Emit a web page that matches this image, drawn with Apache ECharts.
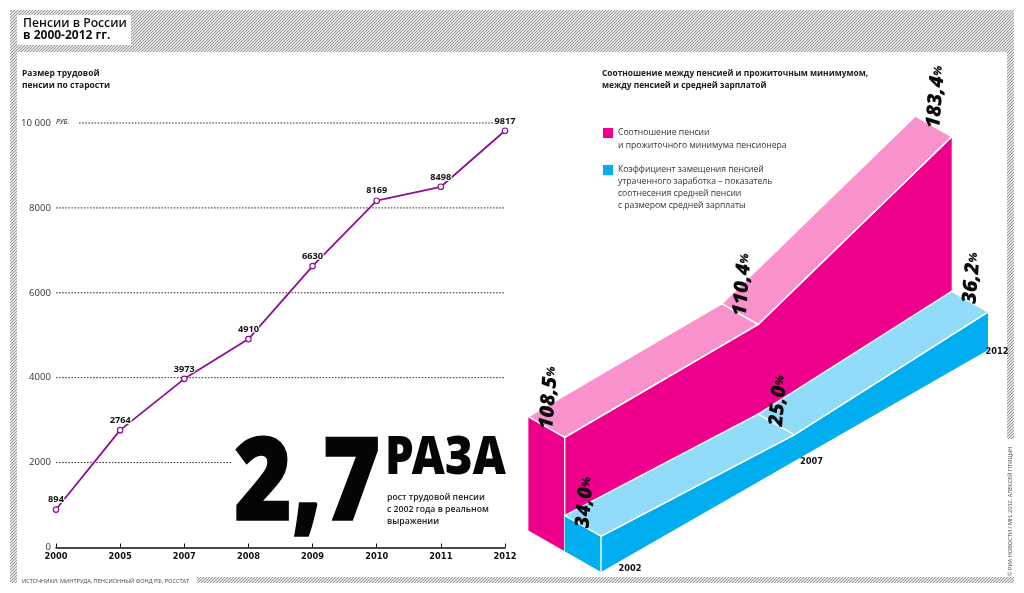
<!DOCTYPE html>
<html><head><meta charset="utf-8">
<style>html,body{margin:0;padding:0;background:#fff}#c{width:1024px;height:593px}</style>
<script src="https://cdn.jsdelivr.net/npm/echarts@6/dist/echarts.min.js"></script>
</head><body><div id="c"></div>
<script>
// ---- data ----
const years = ['2000','2005','2007','2008','2009','2010','2011','2012'];
const pension = [894,2764,3973,4910,6630,8169,8498,9817];
const yTicks = {0:'0',2000:'2000',4000:'4000',6000:'6000',8000:'8000',10000:'10 000'};
const dottedLevels = [10000,8000,6000,4000,2000];
const dottedFrom   = [0.36,0,0,0,0];
const dottedTo     = [7,7,7,7,2.75];
const ribbonYears = ['2002','2007','2012'];
const minimumRatio = [108.5,110.4,183.4];
const replacementRate = [34.0,25.0,36.2];
const minimumLabels = ['108,5','110,4','183,4'];
const replacementLabels = ['34,0','25,0','36,2'];

const PINK='#ee008c', PINK_L='#f98bc9', BLUE='#00aeef', BLUE_L='#8ad9f8';
const FONT='"Open Sans","Noto Sans",sans-serif';
const HEAVY='"Noto Sans","Open Sans",sans-serif';
const DIGIT='"DejaVu Sans",sans-serif';

function hatchTile(){
  const c=document.createElement('canvas');c.width=c.height=3;
  const g=c.getContext('2d');g.fillStyle='#e2e2e2';g.fillRect(0,0,3,3);
  g.fillStyle='#9a9a9a';
  for(let y=0;y<3;y++)for(let x=0;x<3;x++)if((x+y)%3===0)g.fillRect(x,y,1,1);
  return {image:c,repeat:'repeat'};
}
function streakTile(base,light){
  const c=document.createElement('canvas');c.width=c.height=24;
  const g=c.getContext('2d');g.fillStyle=base;g.fillRect(0,0,24,24);
  g.strokeStyle=light;g.lineWidth=.5;
  for(let i=-24;i<48;i+=3){g.beginPath();g.moveTo(i,24);g.lineTo(i+24,0);g.stroke();}
  return {image:c,repeat:'repeat'};
}
const hatch=hatchTile();
const pinkTop=streakTile(PINK_L,'rgba(255,210,235,.55)');
const blueTop=streakTile(BLUE_L,'rgba(215,245,255,.55)');

// oblique projection of the ribbon chart: the run along the years climbs, the depth steps back
const RISE=111, DX=36.3, DY=20.7;
function project(api,i,depth,v){
  const c=api.coord([i,v]);
  return [c[0]-depth*DX, c[1]-i*RISE-depth*DY];
}
function ribbon(values,labels,d0,colour,topFill){
  return function(params,api){
    const i=params.dataIndex, kids=[], P=(k,d,v)=>project(api,k,d,v), d1=d0+1, v=values[i];
    const white={stroke:'#fff',lineWidth:1.4,fill:null};
    if(i===0){
      kids.push({type:'polygon',shape:{points:[P(0,d1,v),P(0,d0,v),P(0,d0,0),P(0,d1,0)]},style:{fill:colour}});
      const front=values.map((w,k)=>P(k,d0,w));
      for(let k=values.length-1;k>=0;k--)front.push(P(k,d0,0));
      kids.push({type:'polygon',shape:{points:front},style:{fill:colour}});
    }
    if(i<values.length-1){
      const w=values[i+1];
      kids.push({type:'polygon',shape:{points:[P(i,d1,v),P(i+1,d1,w),P(i+1,d0,w),P(i,d0,v)]},style:{fill:topFill,stroke:'#fff',lineWidth:1.4}});
      kids.push({type:'polyline',shape:{points:[P(i,d0,v),P(i+1,d0,w)]},style:white});
    }
    if(i===0){
      kids.push({type:'polyline',shape:{points:[P(0,d0,v),P(0,d0,0)]},style:white});
    }
    const a=P(i,d0+.5,v);
    kids.push({type:'text',x:a[0],y:a[1]+2,rotation:1.49,z2:50,style:{
      text:'{a|'+labels[i]+'}{b|%}',align:'left',verticalAlign:'middle',
      rich:{a:{font:'italic 800 20px '+FONT,fill:'#0a0a0a'},b:{font:'italic 800 11px '+FONT,fill:'#0a0a0a'}}
    }});
    return {type:'group',children:kids};
  };
}
const yearShift=[[29,-3],[17,1],[9,2]];

function txt(x,y,text,o){o=o||{};return {type:'text',x:x,y:y+1,rotation:o.rot||0,scaleX:o.sx||1,z:o.z||20,style:{
  text:text,fill:o.c||'#1a1a1a',font:o.f||('600 9px '+FONT),align:o.a||'left',verticalAlign:'middle',
  stroke:o.s||null,lineWidth:o.lw||0}};}
function band(x,y,w,h){return {type:'rect',shape:{x:x,y:y,width:w,height:h},style:{fill:hatch},z:1};}
function swatch(x,y,col){return {type:'rect',shape:{x:x,y:y,width:10,height:10},style:{fill:col},z:5};}
function fracCoord(api,f,v){
  const k=Math.min(Math.floor(f),years.length-2),a=api.coord([k,v]),b=api.coord([k+1,v]);
  return [a[0]+(b[0]-a[0])*(f-k),a[1]];
}

const chart=echarts.init(document.getElementById('c'),null,{renderer:'canvas'});
chart.setOption({
  animation:false,backgroundColor:'#fff',
  grid:[
    {left:56,width:449,top:123,height:424.5,containLabel:false},
    {left:601,width:387,top:152,height:420}
  ],
  xAxis:[
    {type:'category',gridIndex:0,data:years,boundaryGap:false,
     axisLine:{lineStyle:{color:'#111',width:1.6}},
     axisTick:{inside:true,length:4,lineStyle:{color:'#111',width:1}},
     axisLabel:{interval:0,margin:5,color:'#111',fontFamily:'DejaVu Sans',fontWeight:'bold',fontSize:8.3,hideOverlap:false},splitLine:{show:false}},
    {type:'value',gridIndex:1,min:0,max:2,show:false}
  ],
  yAxis:[
    {type:'value',gridIndex:0,min:0,max:10000,interval:2000,axisLine:{show:false},axisTick:{show:false},splitLine:{show:false},
     axisLabel:{margin:5,color:'#333',fontFamily:'Open Sans',fontSize:9.6,padding:[0,0,5,0],formatter:v=>yTicks[v]}},
    {type:'value',gridIndex:1,min:0,max:400,show:false}
  ],
  series:[
    {name:'Уровни',type:'custom',xAxisIndex:0,yAxisIndex:0,z:1,silent:true,clip:false,
     data:dottedLevels.map((v,i)=>[i,v]),encode:{y:1},
     renderItem(p,api){
       const i=p.dataIndex,a=fracCoord(api,dottedFrom[i],dottedLevels[i]),b=fracCoord(api,dottedTo[i],dottedLevels[i]);
       return {type:'line',shape:{x1:a[0],y1:a[1],x2:b[0],y2:b[1]},style:{stroke:'#222',lineWidth:1,lineDash:[1.5,1.6]}};
     }},
    {name:'Размер трудовой пенсии по старости',type:'line',xAxisIndex:0,yAxisIndex:0,z:3,data:pension,
     lineStyle:{color:'#8c1096',width:1.8},symbol:'circle',symbolSize:5.5,showAllSymbol:true,
     itemStyle:{color:'#fff',borderColor:'#8c1096',borderWidth:1.2},
     label:{show:true,position:'top',distance:2,color:'#111',fontFamily:'Open Sans',fontWeight:700,fontSize:9.2,
            textBorderColor:'#fff',textBorderWidth:2}},
    {name:'Соотношение пенсии и прожиточного минимума пенсионера',type:'custom',xAxisIndex:1,yAxisIndex:1,z:2,clip:false,
     data:minimumRatio.map((v,i)=>[i,v]),encode:{x:0,y:1},
     renderItem:ribbon(minimumRatio,minimumLabels,1,PINK,pinkTop)},
    {name:'Коэффициент замещения пенсией утраченного заработка',type:'custom',xAxisIndex:1,yAxisIndex:1,z:4,clip:false,
     data:replacementRate.map((v,i)=>[i,v]),encode:{x:0,y:1},
     renderItem:ribbon(replacementRate,replacementLabels,0,BLUE,blueTop)},
    {name:'Годы',type:'custom',xAxisIndex:1,yAxisIndex:1,z:5,clip:false,silent:true,
     data:ribbonYears.map((v,i)=>[i,0]),encode:{x:0,y:1},
     renderItem(p,api){
       const i=p.dataIndex,c=project(api,i,0,0);
       return {type:'text',x:c[0]+yearShift[i][0],y:c[1]+yearShift[i][1],style:{text:ribbonYears[i],align:'center',verticalAlign:'middle',font:'bold 8.3px '+DIGIT,fill:'#111'}};
     }}
  ],
  graphic:{elements:[
    band(10,10,1004,42),band(10,52,7,531),band(1007,52,7,387),band(197,577,817,6),
    {type:'rect',shape:{x:17,y:15,width:114,height:30},style:{fill:'#fff'},z:5},
    txt(23,23,'Пенсии в России',{f:'600 12.2px '+FONT,c:'#111'}),
    txt(23,35,'в 2000-2012 гг.',{f:'700 12px '+FONT,c:'#111'}),
    txt(22,73,'Размер трудовой',{f:'700 8.5px '+FONT}),
    txt(22,85,'пенсии по старости',{f:'700 8.5px '+FONT}),
    txt(56,121,'РУБ.',{f:'italic 600 6.5px '+FONT,c:'#444'}),
    txt(602,73,'Соотношение между пенсией и прожиточным минимумом,',{f:'700 8.35px '+FONT}),
    txt(602,85,'между пенсией и средней зарплатой',{f:'700 8.35px '+FONT}),
    swatch(603,128,PINK),swatch(603,165,BLUE),
    txt(618,132,'Соотношение пенсии',{f:'400 8.6px '+FONT,c:'#333'}),
    txt(618,145,'и прожиточного минимума пенсионера',{f:'400 8.6px '+FONT,c:'#333'}),
    txt(618,169,'Коэффициент замещения пенсией',{f:'400 8.6px '+FONT,c:'#333'}),
    txt(618,181,'утраченного заработка – показатель',{f:'400 8.6px '+FONT,c:'#333'}),
    txt(618,193,'соотнесения средней пенсии',{f:'400 8.6px '+FONT,c:'#333'}),
    txt(618,205,'с размером средней зарплаты',{f:'400 8.6px '+FONT,c:'#333'}),
    txt(234,486,'2,7',{f:'900 115px '+HEAVY,c:'#050505',sx:.86,s:'#050505',lw:1.5,z:30}),
    txt(385,458,'РАЗА',{f:'900 53px '+HEAVY,c:'#050505',sx:.86,z:30}),
    txt(387,497,'рост трудовой пенсии',{f:'600 8.7px '+FONT}),
    txt(387,509,'с 2002 года в реальном',{f:'600 8.7px '+FONT}),
    txt(387,521,'выражении',{f:'600 8.7px '+FONT}),
    txt(22,580,'ИСТОЧНИКИ: МИНТРУДА, ПЕНСИОННЫЙ ФОНД РФ, РОССТАТ',{f:'400 5.6px '+FONT,c:'#444'}),
    txt(1010,575,'© РИА НОВОСТИ / МН, 2012. АЛЕКСЕЙ ПТИЦЫН',{f:'400 5.6px '+FONT,c:'#444',rot:Math.PI/2})
  ]}
});
</script></body></html>
